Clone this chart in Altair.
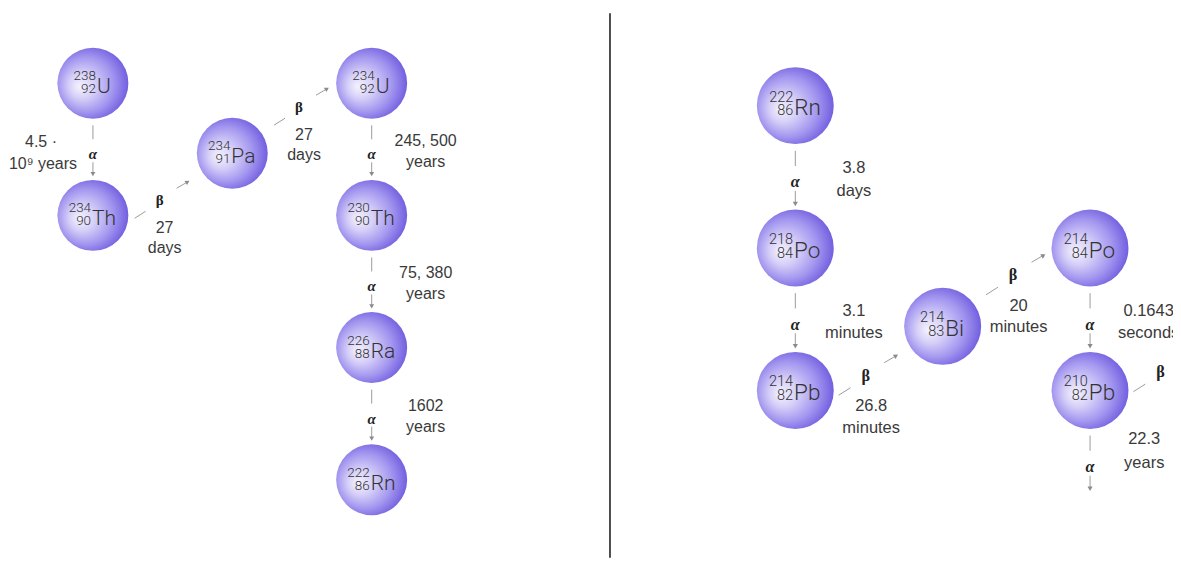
import altair as alt
import pandas as pd

# ------------------------------------------------------------------ data
# Left panel: uranium-238 series down to radon-222 (grid column / row of each nuclide)
left_symbol = ["U", "Th", "Pa", "U", "Th", "Ra", "Rn"]
left_mass = ["238", "234", "234", "234", "230", "226", "222"]
left_z = ["92", "90", "91", "92", "90", "88", "86"]
left_col = [0, 0, 1, 2, 2, 2, 2]
left_row = [0, 1, 0.53, 0, 1, 2, 3]

left_from = [0, 1, 2, 3, 4, 5]
left_to = [1, 2, 3, 4, 5, 6]
left_mode = ["α", "β", "β", "α", "α", "α"]
left_time1 = ["4.5 ·", "27", "27", "245, 500", "75, 380", "1602"]
left_time2 = ["10⁹ years", "days", "days", "years", "years", "years"]
left_place = ["left", "below", "below", "right", "right", "right"]

# Right panel: radon-222 down to lead-210
right_symbol = ["Rn", "Po", "Pb", "Bi", "Po", "Pb"]
right_mass = ["222", "218", "214", "214", "214", "210"]
right_z = ["86", "84", "82", "83", "84", "82"]
right_col = [0, 0, 0, 1, 2, 2]
right_row = [0, 1, 2, 1.55, 1, 2]
# daughters of lead-210 (210Bi, 206Hg) lie outside the cropped picture: not drawn
beyond_col = [3, 2]
beyond_row = [1.5, 3]

right_from = [0, 1, 2, 3, 4, 5, 5]
right_to = [1, 2, 3, 4, 5, 6, 7]
right_mode = ["α", "α", "β", "β", "α", "β", "α"]
right_time1 = ["3.8", "3.1", "26.8", "20", "0.1643", "22.3", ""]
right_time2 = ["days", "minutes", "minutes", "minutes", "seconds", "years", ""]
right_place = ["right", "right", "below", "below", "right", "far", "none"]

# ------------------------------------------------------------------ styling / layout
FONT = "Liberation Sans"
NODE_FONT = "Roboto"
SERIF = "Liberation Serif"
TXT = "#3a3a3a"
LINE = "#9c9c9c"
HEAD = "#8a8a8a"
H = 550
# approximate advance widths (em) used to centre the nuclide labels
CHAR_W = {"U": .70, "T": .61, "h": .55, "P": .63, "a": .54, "R": .63,
          "n": .55, "o": .57, "b": .56, "B": .62, "i": .24}

LEFT = dict(x_left=8, width=603, col0=93, dcol=139.5, row0=83, drow=132.3, k=1.0,
            diam=71, sym_font=21, num_font=13.5, txt_font=16, mass_dy=-3, z_dy=10)
RIGHT = dict(x_left=611, width=562, col0=795, dcol=147.5, row0=105.5, drow=142.5, k=1.085,
             diam=77, sym_font=22.5, num_font=14.5, txt_font=16.5, mass_dy=-4, z_dy=9.5)

GRAD = alt.RadialGradient(
    gradient="radial",
    stops=[alt.GradientStop(offset=0, color="#f4f2fd"),
           alt.GradientStop(offset=0.3, color="#d6d0f8"),
           alt.GradientStop(offset=0.65, color="#a396ef"),
           alt.GradientStop(offset=1, color="#6552dc")],
    x1=0.3, y1=0.55, r1=0, x2=0.45, y2=0.5, r2=0.6)


def panel(sym, mass, z, cols, rows, xcols, xrows, e_from, e_to, e_mode, e_t1, e_t2,
          e_place, g, clip, separator=False):
    dc, dr, k = g["dcol"], g["drow"], g["k"]
    cmin = (g["x_left"] - g["col0"]) / dc
    cmax = (g["x_left"] + g["width"] - g["col0"]) / dc
    rmin = (8 - g["row0"]) / dr
    rmax = (8 + H - g["row0"]) / dr
    xs = alt.Scale(domain=[cmin, cmax], nice=False, zero=False)
    ys = alt.Scale(domain=[rmin, rmax], nice=False, zero=False, reverse=True)

    def X(f):
        return alt.X(f, type="quantitative", scale=xs, axis=None)

    def Y(f):
        return alt.Y(f, type="quantitative", scale=ys, axis=None)

    def gx(base, px):
        return base + px * k / dc

    def gy(base, px):
        return base + px * k / dr

    # ---- nodes
    split = []
    for s, m, zz, c in zip(sym, mass, z, cols):
        num_w = max(len(m), len(zz)) * 0.56 * g["num_font"]
        sym_w = sum(CHAR_W[ch] for ch in s) * g["sym_font"]
        split.append(c + (-(num_w + sym_w) / 2 + num_w - 1) / dc)
    nodes = pd.DataFrame({"col": cols, "row": rows, "sym": sym, "mass": mass, "z": z,
                          "split": split})

    # ---- edges
    allc = list(cols) + list(xcols)
    allr = list(rows) + list(xrows)
    segs, heads, alpha_l, beta_l, texts = [], [], [], [], []
    for f, t, mode, t1, t2, place in zip(e_from, e_to, e_mode, e_t1, e_t2, e_place):
        fc, fr, tc, tr = allc[f], allr[f], allc[t], allr[t]
        if mode == "α":
            ax, ay = fc, (fr + tr) / 2
            seg_px = [((0, -24), (0, -10)), ((0, 13), (0, 25))]
            head_px, ang = (0, 25), 180
            alpha_l.append({"x": ax, "y": gy(ay, 5), "t": "α"})
            if place == "right":
                tpx = [(54, -8), (54, 13)]
            else:
                tpx = [(-52, -7), (-50, 15)]
        else:
            lift = 16 if float(fr).is_integer() else -11
            ax = gx((fc + tc) / 2, -3)
            ay = gy((fr + tr) / 2, lift)
            seg_px = [((-25, 18), (-14, 11)), ((17, -12), (28, -18.4))]
            head_px, ang = (28, -18.4), 58
            beta_l.append({"x": ax, "y": ay, "t": "β"})
            if place == "far":
                tpx = [(-15, 62), (-15, 84)]
            else:
                tpx = [(5, 28), (5, 48)]
        for (p1, p2) in seg_px:
            segs.append({"x": gx(ax, p1[0]), "y": gy(ay, p1[1]),
                         "x2": gx(ax, p2[0]), "y2": gy(ay, p2[1])})
        heads.append({"x": gx(ax, head_px[0]), "y": gy(ay, head_px[1]), "angle": ang})
        for line, (ox, oy) in zip([t1, t2], tpx):
            if line:
                texts.append({"x": gx(ax, ox), "y": gy(ay, oy), "t": line})

    segs = pd.DataFrame(segs)
    heads = pd.DataFrame(heads)
    texts = pd.DataFrame(texts)

    layers = []
    if separator:
        layers.append(
            alt.Chart(pd.DataFrame({"a": [0]})).mark_rule(color="#222222", strokeWidth=1.6)
            .encode(x=alt.value(g["width"] - 0.5), y=alt.value(5), y2=alt.value(H)))
    layers += [
        alt.Chart(segs).mark_rule(color=LINE, strokeWidth=1, clip=clip).encode(
            x=X("x"), y=Y("y"), x2=alt.X2("x2"), y2=alt.Y2("y2")),
        alt.Chart(heads).mark_point(shape="triangle-up", filled=True, size=24 * k,
                                    color=HEAD, opacity=1, clip=clip).encode(
            x=X("x"), y=Y("y"), angle=alt.Angle("angle:Q", scale=None)),
        alt.Chart(nodes).mark_circle(size=g["diam"] ** 2, fill=GRAD, opacity=1,
                                     clip=clip).encode(x=X("col"), y=Y("row")),
        alt.Chart(nodes).mark_text(align="right", baseline="alphabetic", font=NODE_FONT,
                                   fontWeight=300, fontSize=g["num_font"], color="#333333",
                                   dy=g["mass_dy"], clip=clip).encode(
            x=X("split"), y=Y("row"), text="mass:N"),
        alt.Chart(nodes).mark_text(align="right", baseline="alphabetic", font=NODE_FONT,
                                   fontWeight=300, fontSize=g["num_font"], color="#333333",
                                   dy=g["z_dy"], clip=clip).encode(
            x=X("split"), y=Y("row"), text="z:N"),
        alt.Chart(nodes).mark_text(align="left", baseline="alphabetic", font=NODE_FONT,
                                   fontWeight=300, fontSize=g["sym_font"], color="#333333",
                                   dx=1, dy=g["z_dy"], clip=clip).encode(
            x=X("split"), y=Y("row"), text="sym:N"),
        alt.Chart(texts).mark_text(align="center", baseline="middle", font=FONT,
                                   fontSize=g["txt_font"], color=TXT, clip=clip).encode(
            x=X("x"), y=Y("y"), text="t:N"),
    ]
    if alpha_l:
        layers.append(
            alt.Chart(pd.DataFrame(alpha_l)).mark_text(
                align="center", baseline="middle", font=SERIF, fontSize=15 * k,
                fontWeight="bold", fontStyle="italic", color="#222222", clip=clip)
            .encode(x=X("x"), y=Y("y"), text="t:N"))
    if beta_l:
        layers.append(
            alt.Chart(pd.DataFrame(beta_l)).mark_text(
                align="center", baseline="middle", font=SERIF, fontSize=15 * k,
                fontWeight="bold", color="#222222", clip=clip)
            .encode(x=X("x"), y=Y("y"), text="t:N"))
    return alt.layer(*layers).properties(width=g["width"], height=H)


left = panel(left_symbol, left_mass, left_z, left_col, left_row, [], [],
             left_from, left_to, left_mode, left_time1, left_time2, left_place,
             LEFT, clip=False, separator=True)
right = panel(right_symbol, right_mass, right_z, right_col, right_row, beyond_col, beyond_row,
              right_from, right_to, right_mode, right_time1, right_time2, right_place,
              RIGHT, clip=True)

chart = (alt.hconcat(left, right, spacing=0)
         .properties(padding=0, background="white")
         .configure_view(stroke=None))

chart.save("out.html", embed_options={"renderer": "svg", "actions": False})
